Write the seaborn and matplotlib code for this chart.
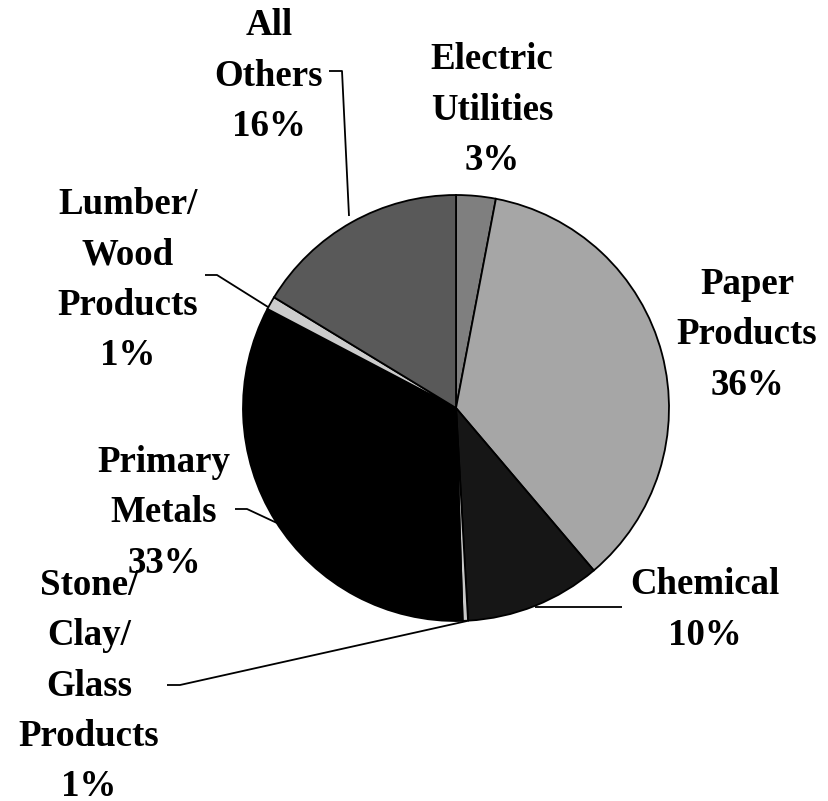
import matplotlib
matplotlib.use("Agg")
import matplotlib.pyplot as plt
import seaborn as sns

# shares of the pie, clockwise from 12 o'clock
sectors = ["Electric\nUtilities", "Paper\nProducts", "Chemical",
           "Stone/\nClay/\nGlass\nProducts", "Primary\nMetals",
           "Lumber/\nWood\nProducts", "All\nOthers"]
shares = [3.0, 35.8, 10.3, 0.4, 33.2, 1.0, 16.3]
pct_labels = ["3%", "36%", "10%", "1%", "33%", "1%", "16%"]
grays = ["#7f7f7f", "#a6a6a6", "#161616", "#c8c8c8", "#000000", "#cccccc", "#595959"]

W, H = 829, 801

# label block centres (image pixels, y down)
label_pos = [(492, 110), (747, 335), (705, 610), (89, 686),
             (164, 513), (128, 280), (269, 76)]

# leader lines (image pixels, y down)
leaders = [
    [(329, 71), (342, 71), (349, 216)],
    [(205, 275), (217, 275), (268, 307)],
    [(235, 509), (247, 509), (277, 523)],
    [(167, 685), (180, 685), (467, 621)],
    [(535, 607), (622, 607)],
]

sns.set_theme(style="white")
plt.rcParams["font.family"] = ["Liberation Serif", "DejaVu Serif"]

fig = plt.figure(figsize=(W / 100, H / 100), dpi=100)
ax = fig.add_axes([0, 0, 1, 1])

ax.pie(shares, colors=grays, startangle=90, counterclock=False,
       center=(456, H - 408), radius=213,
       wedgeprops=dict(edgecolor="black", linewidth=1.3))
ax.set_xlim(0, W)
ax.set_ylim(0, H)
ax.set_aspect("equal")
ax.axis("off")

for sec, pct, (x, y) in zip(sectors, pct_labels, label_pos):
    ax.text(x, H - y, f"{sec}\n{pct}", ha="center", va="center",
            fontsize=26.6, fontweight="bold", linespacing=1.56,
            color="black")

for pts in leaders:
    xs = [p[0] for p in pts]
    ys = [H - p[1] for p in pts]
    ax.plot(xs, ys, color="black", lw=1.3, solid_capstyle="butt")

fig.savefig("out.png", dpi=100)
